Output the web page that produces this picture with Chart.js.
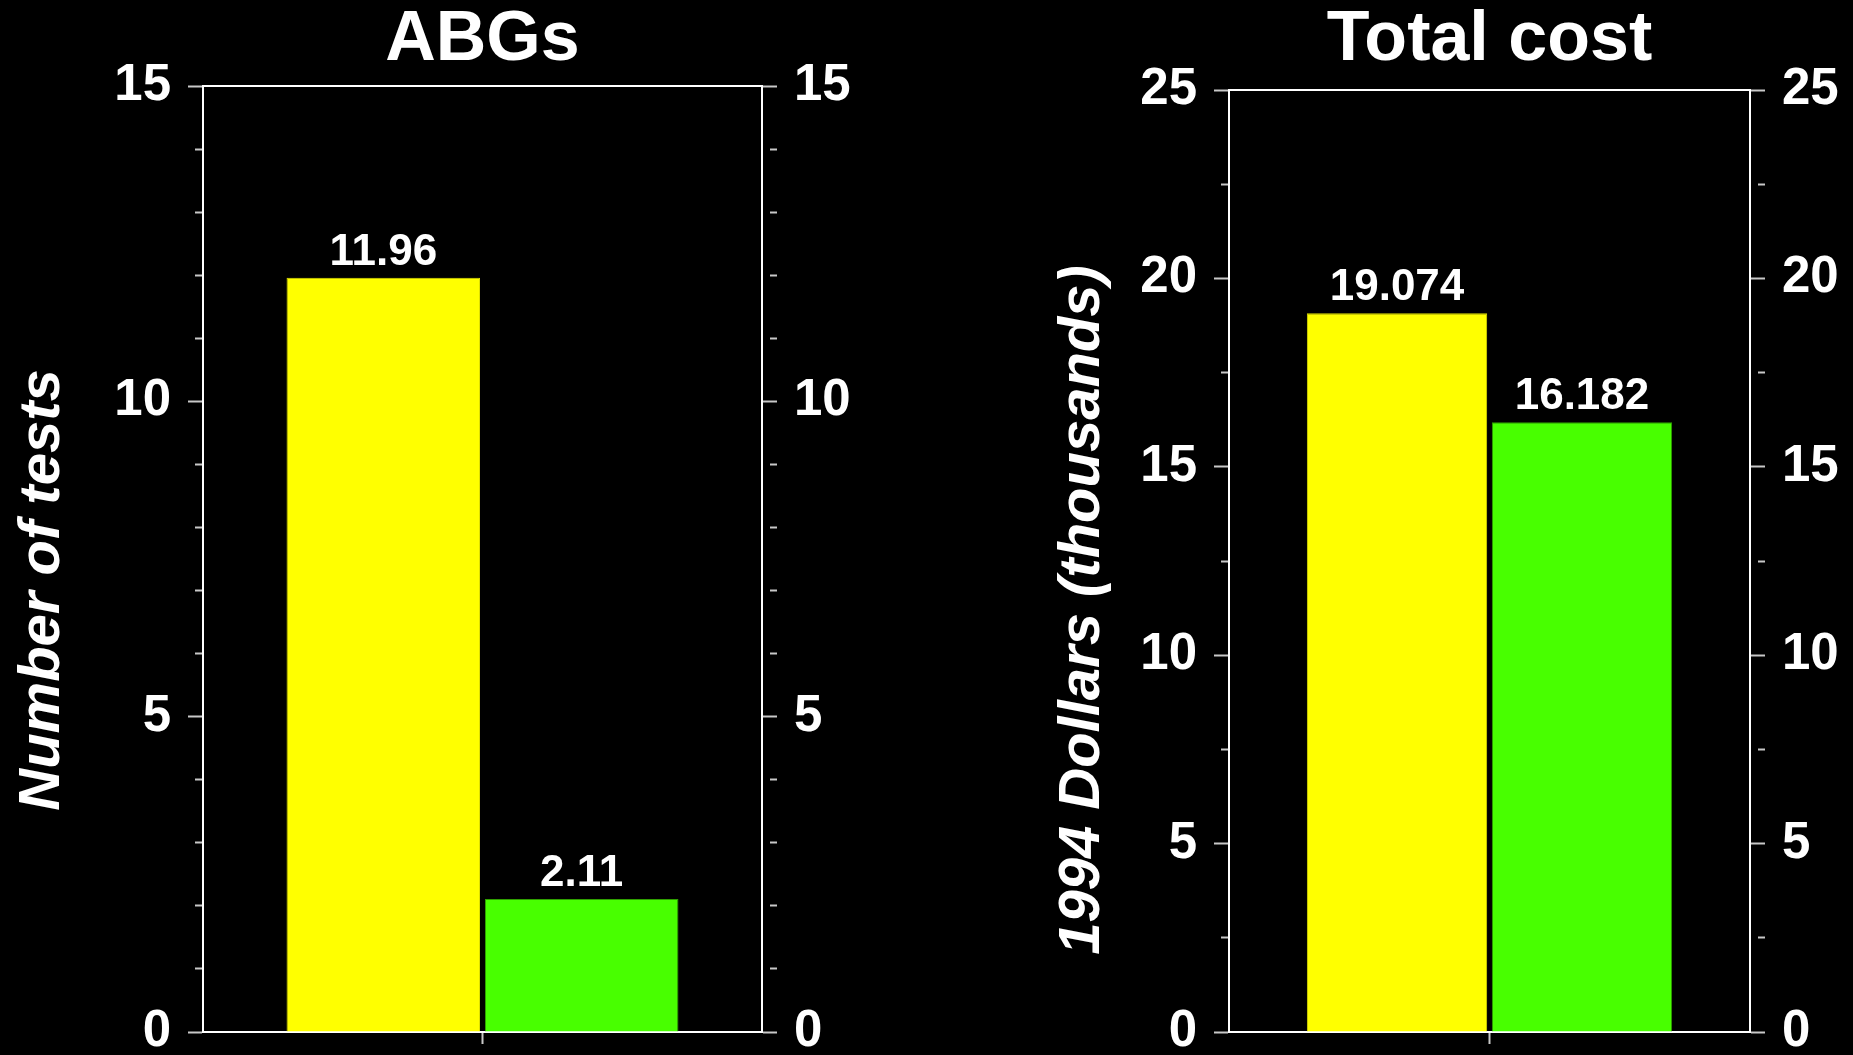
<!DOCTYPE html>
<html>
<head>
<meta charset="utf-8">
<title>ABGs and total cost</title>
<script src="https://cdn.jsdelivr.net/npm/chart.js@4.4.1/dist/chart.umd.min.js"></script>
<style>
  html, body { margin: 0; padding: 0; background: #000; }
  body { width: 1853px; height: 1055px; position: relative; overflow: hidden; }
  .panel { position: absolute; top: 0; height: 1055px; }
  #p1 { left: 0; width: 926px; }
  #p2 { left: 926px; width: 927px; }
</style>
</head>
<body>
<div class="panel" id="p1"><canvas id="abg"></canvas></div>
<div class="panel" id="p2"><canvas id="cost"></canvas></div>
<script>
// ---- data ----
const categories = [''];
const seriesNames = ['Series 1', 'Series 2'];
const abgValues = [11.96, 2.11];
const costValues = [19.074, 16.182];
const abgTickLabels = [0, 5, 10, 15];
const costTickLabels = [0, 5, 10, 15, 20, 25];

// ---- styling ----
const FONT = '"Liberation Sans", Arial, Helvetica, sans-serif';
const barColors = ['#ffff00', '#48ff00'];
const barEdges = ['#dede00', '#2f9f00'];
Chart.defaults.font.family = FONT;
Chart.defaults.color = '#fff';

// value printed above each bar
const valueLabels = {
  id: 'valueLabels',
  afterDatasetsDraw(chart) {
    const ctx = chart.ctx;
    ctx.save();
    ctx.font = 'bold 44px ' + FONT;
    ctx.fillStyle = '#fff';
    ctx.textAlign = 'center';
    ctx.textBaseline = 'alphabetic';
    chart.data.datasets.forEach((ds, i) => {
      chart.getDatasetMeta(i).data.forEach((bar, j) => {
        ctx.fillText(String(ds.data[j]), bar.x, bar.y - 13);
      });
    });
    ctx.restore();
  }
};

// rotated y-axis caption, placed relative to the plot area
const sideTitle = {
  id: 'sideTitle',
  afterDraw(chart, args, opts) {
    const { ctx, chartArea } = chart;
    ctx.save();
    ctx.font = 'italic bold 58px ' + FONT;
    ctx.fillStyle = '#fff';
    ctx.textAlign = 'center';
    ctx.textBaseline = 'alphabetic';
    ctx.translate(chartArea.left - opts.gap, (chartArea.top + chartArea.bottom) / 2 + opts.shift);
    ctx.rotate(-Math.PI / 2);
    ctx.fillText(opts.text, 0, 0);
    ctx.restore();
  }
};

function yAxis(position, max, step, labels, width) {
  return {
    type: 'linear',
    position: position,
    min: 0,
    max: max,
    afterFit(s) { s.width = width; s.paddingTop = 0; s.paddingBottom = 0; },
    ticks: {
      stepSize: step,
      autoSkip: false,
      padding: 17,
      color: '#fff',
      font: { size: 51, weight: 'bold' },
      callback: v => labels.includes(v) ? String(v) : ''
    },
    grid: {
      drawOnChartArea: false,
      tickLength: 15,
      tickWidth: 2,
      tickColor: '#c8c8c8',
      tickBorderDash: c => (c.tick && labels.includes(c.tick.value)) ? [] : [0, 7, 100]
    },
    border: { color: '#fff', width: 2 }
  };
}

function makeChart(id, values, max, step, labels, title, yTitle, cfg) {
  return new Chart(document.getElementById(id), {
    type: 'bar',
    data: {
      labels: categories,
      datasets: values.map((v, i) => ({
        label: seriesNames[i],
        data: [v],
        backgroundColor: barColors[i],
        borderColor: barEdges[i],
        borderWidth: 1,
        xAxisID: 'x',
        yAxisID: 'y',
        categoryPercentage: 0.71,
        barPercentage: 0.975
      }))
    },
    options: {
      responsive: true,
      maintainAspectRatio: false,
      animation: false,
      layout: { padding: 0 },
      plugins: {
        legend: { display: false },
        tooltip: { enabled: false },
        title: {
          display: true,
          text: title,
          color: '#fff',
          fullSize: false,
          font: { size: 70, weight: 'bold', lineHeight: 1 },
          padding: { top: 6, bottom: cfg.titleBottom }
        },
        sideTitle: { text: yTitle, gap: cfg.captionGap, shift: cfg.captionShift }
      },
      scales: {
        x: {
          type: 'category',
          position: 'bottom',
          offset: true,
          afterFit(s) { s.height = 23; },
          grid: { offset: false, drawOnChartArea: false, tickLength: 12, tickWidth: 2, tickColor: '#c8c8c8' },
          ticks: { display: false },
          border: { color: '#fff', width: 2 }
        },
        xTop: {
          type: 'category',
          position: 'top',
          offset: true,
          afterFit(s) { s.height = 0; },
          grid: { drawOnChartArea: false, drawTicks: false },
          ticks: { display: false },
          border: { color: '#fff', width: 2 }
        },
        y: yAxis('left', max, step, labels, cfg.leftWidth),
        y2: yAxis('right', max, step, labels, cfg.rightWidth)
      }
    },
    plugins: [valueLabels, sideTitle]
  });
}

makeChart('abg', abgValues, 15, 1, abgTickLabels, 'ABGs', 'Number of tests',
  { leftWidth: 203, rightWidth: 164, titleBottom: 10, captionGap: 144, captionShift: 31 });

makeChart('cost', costValues, 25, 2.5, costTickLabels, 'Total cost', '1994 Dollars (thousands)',
  { leftWidth: 303, rightWidth: 103, titleBottom: 14, captionGap: 130, captionShift: 49 });
</script>
</body>
</html>
